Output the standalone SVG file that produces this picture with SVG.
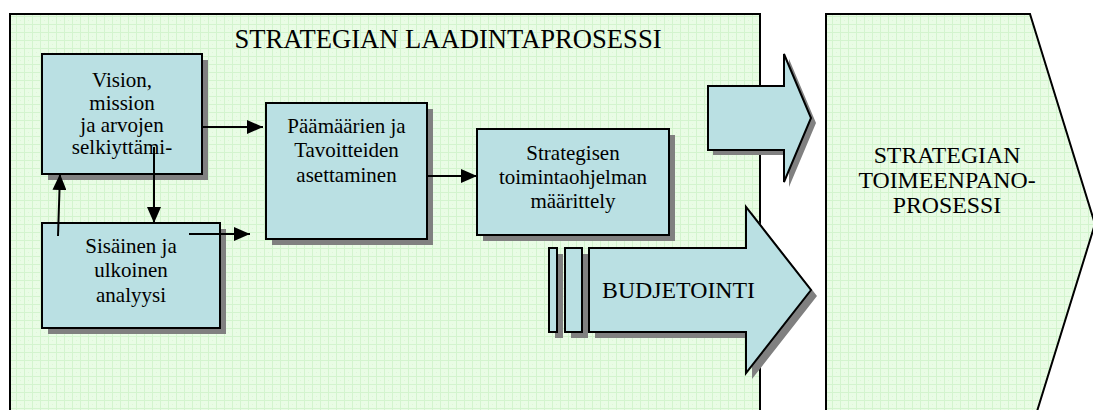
<svg xmlns="http://www.w3.org/2000/svg" width="1093" height="410" viewBox="0 0 1093 410">
  <defs>
    <!-- pale green grid fill used by the two process areas -->
    <pattern id="grid" width="8" height="8" patternUnits="userSpaceOnUse">
      <rect width="8" height="8" fill="#e9fce5"/>
      <path d="M0,0.5 H8 M0.5,0 V8" stroke="#d3f4ce" stroke-width="1" fill="none"/>
      <rect x="4" y="4" width="1" height="1" fill="#ddf7d8"/>
    </pattern>
    <marker id="head" viewBox="0 0 16 14" refX="16" refY="7" markerWidth="16" markerHeight="14" markerUnits="userSpaceOnUse" orient="auto">
      <path d="M0,0 L16,7 L0,14 Z" fill="#000"/>
    </marker>
    <style>
      .area { fill: url(#grid); stroke: #000; stroke-width: 2; }
      .box { fill: #bae0e3; stroke: #000; stroke-width: 2; }
      .shadow { fill: #808080; }
      .conn { stroke: #000; stroke-width: 2; fill: none; marker-end: url(#head); }
      .lbl { fill: #000; text-anchor: middle; }
      .node { font-size: 21px; }
      .big { font-size: 23.8px; }
      .title { font-size: 26.6px; }
    </style>
  </defs>

  <rect width="1093" height="410" fill="#fff"/>

  <g font-family="'Liberation Serif', 'DejaVu Serif', serif">
  <!-- strategy planning process area -->
  <g id="planning-area">
    <rect class="area" x="10" y="14" width="750" height="410"/>
    <text class="lbl title" x="448" y="48">STRATEGIAN LAADINTAPROSESSI</text>
  </g>

  <!-- strategy implementation process area -->
  <g id="implementation-area">
    <polygon class="area" points="826,14 1030,14 1095,224 1030,434 826,434"/>
    <text class="lbl big" x="947" y="163">STRATEGIAN</text>
    <text class="lbl big" x="947" y="188">TOIMEENPANO-</text>
    <text class="lbl big" x="947" y="213">PROSESSI</text>
  </g>

  <g id="vision">
    <rect class="shadow" x="48" y="60" width="160" height="120"/>
    <rect class="box" x="42" y="54" width="160" height="120"/>
    <text class="lbl node" x="122" y="87">Vision,</text>
    <text class="lbl node" x="122" y="110">mission</text>
    <text class="lbl node" x="122" y="132">ja arvojen</text>
    <text class="lbl node" x="122" y="154">selkiyttämi-</text>
  </g>

  <g id="goals">
    <rect class="shadow" x="272" y="109" width="161" height="136"/>
    <rect class="box" x="266" y="103" width="161" height="136"/>
    <text class="lbl node" x="346.5" y="133">Päämäärien ja</text>
    <text class="lbl node" x="346.5" y="157">Tavoitteiden</text>
    <text class="lbl node" x="346.5" y="182">asettaminen</text>
  </g>

  <g id="action-plan">
    <rect class="shadow" x="483" y="135" width="192" height="106"/>
    <rect class="box" x="477" y="129" width="192" height="106"/>
    <text class="lbl node" x="573" y="160">Strategisen</text>
    <text class="lbl node" x="573" y="184">toimintaohjelman</text>
    <text class="lbl node" x="573" y="208">määrittely</text>
  </g>

  <g id="analysis">
    <rect class="shadow" x="48" y="229" width="178" height="105"/>
    <rect class="box" x="42" y="223" width="178" height="105"/>
    <text class="lbl node" x="131" y="253">Sisäinen ja</text>
    <text class="lbl node" x="131" y="277">ulkoinen</text>
    <text class="lbl node" x="131" y="302">analyysi</text>
  </g>

  <g id="handover-arrow">
    <polygon class="shadow" points="713,91 789,91 789,59 816,123 789,187 789,155 713,155"/>
    <polygon class="box" points="708,86 784,86 784,54 811,118 784,182 784,150 708,150"/>
  </g>

  <g id="budgeting">
    <rect class="shadow" x="555" y="254" width="8" height="84"/>
    <rect class="shadow" x="571" y="254" width="17" height="84"/>
    <polygon class="shadow" points="595,254 752,254 752,213 817,296 752,379 752,338 595,338"/>
    <rect class="box" x="549" y="248" width="8" height="84"/>
    <rect class="box" x="565" y="248" width="17" height="84"/>
    <polygon class="box" points="589,248 746,248 746,207 811,290 746,373 746,332 589,332"/>
    <text class="lbl big" x="678.5" y="298">BUDJETOINTI</text>
  </g>
  </g>

  <g id="connectors">
    <path class="conn" d="M202,127 H263"/>
    <path class="conn" d="M154,147 V223"/>
    <path class="conn" d="M58,236 L60,174"/>
    <path class="conn" d="M189,234 H250"/>
    <path class="conn" d="M427,176 H477"/>
  </g>
</svg>
